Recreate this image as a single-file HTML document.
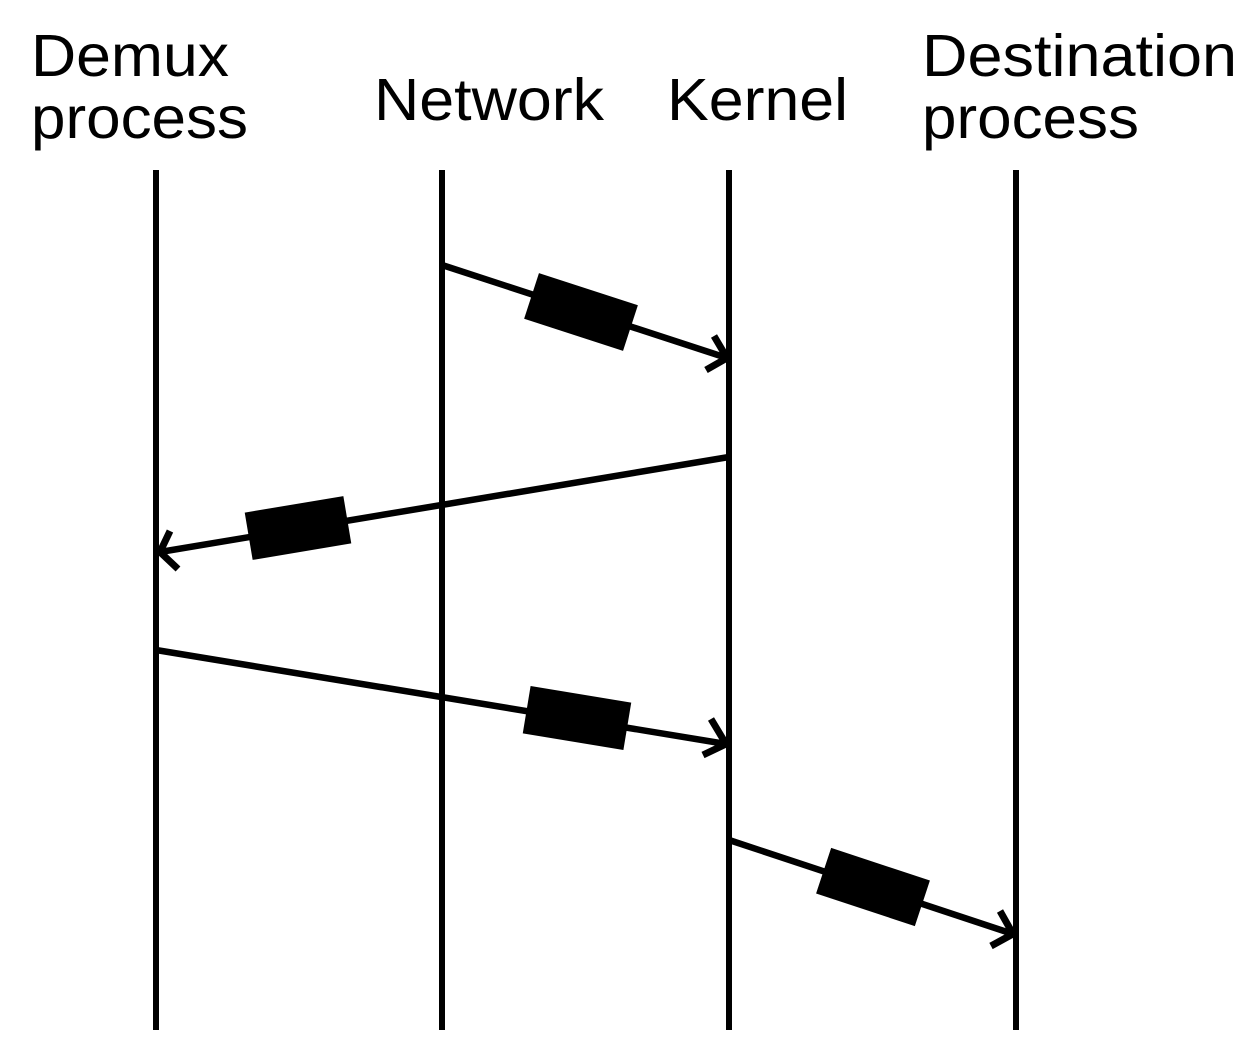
<!DOCTYPE html>
<html><head><meta charset="utf-8"><style>
html,body{margin:0;padding:0;background:#fff;}
svg{display:block;}
text{font-family:"Liberation Sans",sans-serif;font-size:59px;fill:#000;}
</style></head><body>
<svg width="1250" height="1048" viewBox="0 0 1250 1048" xmlns="http://www.w3.org/2000/svg">
<text x="31" y="76" textLength="198" lengthAdjust="spacingAndGlyphs">Demux</text>
<text x="31" y="138" textLength="217" lengthAdjust="spacingAndGlyphs">process</text>
<text x="374" y="120" textLength="230" lengthAdjust="spacingAndGlyphs">Network</text>
<text x="667" y="120" textLength="181" lengthAdjust="spacingAndGlyphs">Kernel</text>
<text x="922" y="76" textLength="315" lengthAdjust="spacingAndGlyphs">Destination</text>
<text x="922" y="138" textLength="217" lengthAdjust="spacingAndGlyphs">process</text>
<g stroke="#000" stroke-width="6" fill="none">
<line x1="156" y1="170" x2="156" y2="1030"/>
<line x1="442" y1="170" x2="442" y2="1030"/>
<line x1="729" y1="170" x2="729" y2="1030"/>
<line x1="1016" y1="170" x2="1016" y2="1030"/>
</g>
<g stroke="#000" stroke-width="6.5" fill="none">
<line x1="442" y1="265" x2="727" y2="358"/>
<line x1="729" y1="457" x2="160" y2="552"/>
<line x1="156" y1="650" x2="726" y2="744"/>
<line x1="729" y1="840" x2="1013" y2="934"/>
</g>
<g stroke="#000" stroke-width="7" fill="none">
<polyline points="714,336 727,358 706,370"/>
<polyline points="170,531 160,552 178,569"/>
<polyline points="711,719 726,744 703,755"/>
<polyline points="1000,911 1013,934 991,946"/>
</g>
<g fill="#000">
<rect x="-52" y="-24" width="104" height="48" transform="translate(581,312) rotate(18)"/>
<rect x="-50" y="-24" width="100" height="48" transform="translate(298,528) rotate(-9.5)"/>
<rect x="-51" y="-24" width="102" height="48" transform="translate(577,718) rotate(9.4)"/>
<rect x="-52" y="-24" width="104" height="48" transform="translate(873,887) rotate(18.3)"/>
</g>
</svg>
</body></html>
